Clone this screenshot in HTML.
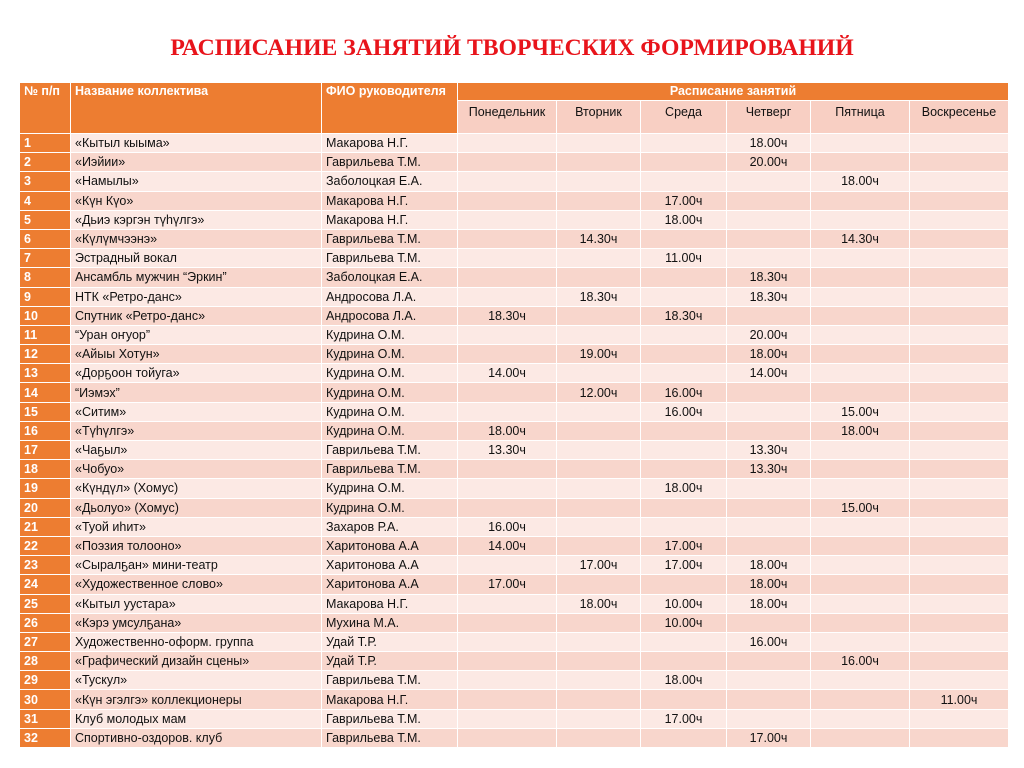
<!DOCTYPE html><html><head><meta charset="utf-8"><style>
body{margin:0;width:1024px;height:768px;background:#fff;font-family:"Liberation Sans",sans-serif;position:relative;overflow:hidden}
h1{position:absolute;top:35px;left:0;width:1024px;text-align:center;margin:0;font-family:"Liberation Serif",serif;font-size:23.7px;color:#e8141b;font-weight:bold}
table{position:absolute;left:19px;top:82px;border-collapse:collapse;table-layout:fixed;font-size:12.5px;color:#111}
td{border:1.5px solid #fff;padding:0 4px;height:18.2px;white-space:nowrap;overflow:hidden;line-height:16px}
.h{background:#ed7d31;color:#fff;font-weight:bold;vertical-align:top}
.sub td{background:#f8cfc3;text-align:center;vertical-align:top;height:33px;padding-top:3px;box-sizing:border-box}
tr.o td{background:#fce9e4}
tr.e td{background:#f8d6cc}
tr td.n{background:#ed7d31;color:#fff;font-weight:bold}
td.c{text-align:center}
</style></head><body>
<h1>РАСПИСАНИЕ ЗАНЯТИЙ ТВОРЧЕСКИХ ФОРМИРОВАНИЙ</h1>
<table>
<colgroup><col style="width:51px"><col style="width:251px"><col style="width:136px"><col style="width:99px"><col style="width:84px"><col style="width:86px"><col style="width:84px"><col style="width:99px"><col style="width:99px"></colgroup>
<tr><td class="h" rowspan="2">№ п/п</td><td class="h" rowspan="2">Название коллектива</td><td class="h" rowspan="2">ФИО руководителя</td><td class="h" colspan="6" style="text-align:center;height:17px">Расписание занятий</td></tr>
<tr class="sub"><td>Понедельник</td><td>Вторник</td><td>Среда</td><td>Четверг</td><td>Пятница</td><td>Воскресенье</td></tr>
<tbody id="b"></tbody>
</table>
<script>
var R=[["«Кытыл кыыма»","Макарова Н.Г.","","","","18.00ч","",""],
["«Иэйии»","Гаврильева Т.М.","","","","20.00ч","",""],
["«Намылы»","Заболоцкая Е.А.","","","","","18.00ч",""],
["«Күн Күо»","Макарова Н.Г.","","","17.00ч","","",""],
["«Дьиэ кэргэн түһүлгэ»","Макарова Н.Г.","","","18.00ч","","",""],
["«Күлүмчээнэ»","Гаврильева Т.М.","","14.30ч","","","14.30ч",""],
["Эстрадный вокал","Гаврильева Т.М.","","","11.00ч","","",""],
["Ансамбль мужчин “Эркин”","Заболоцкая Е.А.","","","","18.30ч","",""],
["НТК «Ретро-данс»","Андросова Л.А.","","18.30ч","","18.30ч","",""],
["Спутник «Ретро-данс»","Андросова Л.А.","18.30ч","","18.30ч","","",""],
["“Уран оҥуор”","Кудрина О.М.","","","","20.00ч","",""],
["«Айыы Хотун»","Кудрина О.М.","","19.00ч","","18.00ч","",""],
["«Дорҕоон тойуга»","Кудрина О.М.","14.00ч","","","14.00ч","",""],
["“Иэмэх”","Кудрина О.М.","","12.00ч","16.00ч","","",""],
["«Ситим»","Кудрина О.М.","","","16.00ч","","15.00ч",""],
["«Түһүлгэ»","Кудрина О.М.","18.00ч","","","","18.00ч",""],
["«Чаҕыл»","Гаврильева Т.М.","13.30ч","","","13.30ч","",""],
["«Чобуо»","Гаврильева Т.М.","","","","13.30ч","",""],
["«Күндүл» (Хомус)","Кудрина О.М.","","","18.00ч","","",""],
["«Дьолуо» (Хомус)","Кудрина О.М.","","","","","15.00ч",""],
["«Туой иһит»","Захаров Р.А.","16.00ч","","","","",""],
["«Поэзия толооно»","Харитонова А.А","14.00ч","","17.00ч","","",""],
["«Сыралҕан» мини-театр","Харитонова А.А","","17.00ч","17.00ч","18.00ч","",""],
["«Художественное слово»","Харитонова А.А","17.00ч","","","18.00ч","",""],
["«Кытыл уустара»","Макарова Н.Г.","","18.00ч","10.00ч","18.00ч","",""],
["«Кэрэ умсулҕана»","Мухина М.А.","","","10.00ч","","",""],
["Художественно-оформ. группа","Удай Т.Р.","","","","16.00ч","",""],
["«Графический дизайн сцены»","Удай Т.Р.","","","","","16.00ч",""],
["«Тускул»","Гаврильева Т.М.","","","18.00ч","","",""],
["«Күн эгэлгэ» коллекционеры","Макарова Н.Г.","","","","","","11.00ч"],
["Клуб молодых мам","Гаврильева Т.М.","","","17.00ч","","",""],
["Спортивно-оздоров. клуб","Гаврильева Т.М.","","","","17.00ч","",""]];
var h="";R.forEach(function(r,i){h+='<tr class="'+(i%2?'e':'o')+'"><td class="n">'+(i+1)+'</td><td>'+r[0]+'</td><td>'+r[1]+'</td>';for(var j=2;j<8;j++)h+='<td class="c">'+r[j]+'</td>';h+='</tr>';});
document.getElementById('b').innerHTML=h;
</script>
</body></html>
